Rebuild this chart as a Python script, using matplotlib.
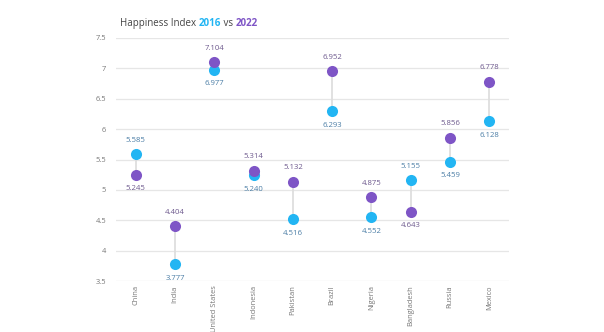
import numpy as np
import matplotlib
matplotlib.use("Agg")
import matplotlib.pyplot as plt

plt.rcParams["font.family"] = ["Open Sans", "DejaVu Sans"]

countries = ["China", "India", "United States", "Indonesia", "Pakistan",
             "Brazil", "Nigeria", "Bangladesh", "Russia", "Mexico"]
y2016 = [5.585, 3.777, 6.977, 5.240, 4.516, 6.293, 4.552, 5.155, 5.459, 6.128]
y2022 = [5.245, 4.404, 7.104, 5.314, 5.132, 6.952, 4.875, 4.643, 5.856, 6.778]
yticks = [3.5, 4, 4.5, 5, 5.5, 6, 6.5, 7, 7.5]
ytick_labels = ["3.5", "4", "4.5", "5", "5.5", "6", "6.5", "7", "7.5"]

BLUE, PURPLE = "#22B5F3", "#7E55C6"
BLUE_TXT, PURPLE_TXT = "#4C7EA6", "#6E5A8E"

fig = plt.figure(figsize=(6.04, 3.32), dpi=100)
ax = fig.add_axes([116 / 604, 1 - 281 / 332, (509 - 116) / 604, (281 - 38) / 332])

x = np.arange(len(countries))
for i in x:
    ax.plot([i, i], [y2016[i], y2022[i]], color="#dedede", lw=1.3, zorder=1)
ax.scatter(x, y2016, s=64, color=BLUE, zorder=3, linewidths=0)
ax.scatter(x, y2022, s=64, color=PURPLE, zorder=3, linewidths=0)

for i in x:
    b, p = y2016[i], y2022[i]
    up_p = p >= b
    ax.annotate(f"{p:.3f}", (i, p), xytext=(0, 7.5 if up_p else -7.5), textcoords="offset points",
                ha="center", va="bottom" if up_p else "top", fontsize=5.6, color=PURPLE_TXT)
    ax.annotate(f"{b:.3f}", (i, b), xytext=(0, -7.5 if up_p else 7.5), textcoords="offset points",
                ha="center", va="top" if up_p else "bottom", fontsize=5.6, color=BLUE_TXT)

ax.set_xlim(-0.5, len(countries) - 0.5)
ax.set_ylim(3.5, 7.5)
ax.set_yticks(yticks)
ax.set_yticklabels(ytick_labels)
ax.set_xticks(x)
ax.set_xticklabels(countries, rotation=90)
ax.tick_params(axis="both", length=0, labelsize=5.4, labelcolor="#777777")
ax.tick_params(axis="x", pad=3)
ax.tick_params(axis="y", pad=7)
ax.grid(axis="y", color="#e6e6e6", lw=0.9)
ax.set_axisbelow(True)
for s in ax.spines.values():
    s.set_visible(False)

fy = 1 - 23.5 / 332
fs = 7.0
t1 = fig.text(120 / 604, fy, "Happiness Index ", fontsize=fs, color="#444444", va="center")
fig.canvas.draw()
r = fig.canvas.get_renderer()
bb = t1.get_window_extent(r)
t2 = fig.text(bb.x1 / 604, fy, "2016", fontsize=fs, color=BLUE, weight="bold", va="center")
bb = t2.get_window_extent(r)
t3 = fig.text(bb.x1 / 604, fy, " vs ", fontsize=fs, color="#444444", va="center")
bb = t3.get_window_extent(r)
fig.text(bb.x1 / 604, fy, "2022", fontsize=fs, color=PURPLE, weight="bold", va="center")

fig.savefig("out.png", dpi=100)
